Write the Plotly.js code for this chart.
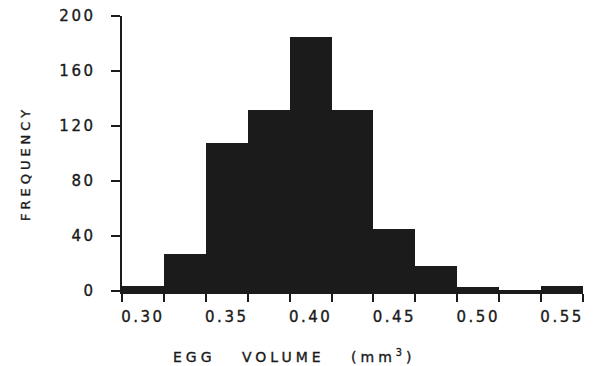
<!DOCTYPE html>
<html>
<head>
<meta charset="utf-8">
<script src="https://cdn.plot.ly/plotly-3.0.1.min.js"></script>
<style>
  html, body { margin: 0; padding: 0; background: #fff; }
  #chart { width: 595px; height: 366px; }
  .xtick text, .ytick text { letter-spacing: 2.5px; stroke: #1a1a1a; stroke-width: 0.35px; }
  .annotation-text { letter-spacing: 4px; word-spacing: 18px; stroke: #1a1a1a; stroke-width: 0.35px; }
  .annotation:nth-of-type(2) .annotation-text { letter-spacing: 6px; }
</style>
</head>
<body>
<div id="chart"></div>
<script>
// Bin centres (egg volume, mm^3) and frequencies
const binCenters = [0.300, 0.325, 0.350, 0.375, 0.400, 0.425, 0.450, 0.475, 0.500, 0.525, 0.550];
const frequency  = [4, 27, 108, 132, 185, 132, 45, 18, 3, 1, 4];
const binWidth = 0.025;
const xTickVals = [0.30, 0.35, 0.40, 0.45, 0.50, 0.55];
const xTickText = ['0.30', '0.35', '0.40', '0.45', '0.50', '0.55'];
const yTickVals = [0, 40, 80, 120, 160, 200];
const xTitle = 'EGG VOLUME (mm<sup>3</sup>)';
const yTitle = 'FREQUENCY';

const ink = '#1b1b1b';
const trace = {
  type: 'bar',
  x: binCenters,
  y: frequency,
  width: binCenters.map(() => binWidth),
  marker: { color: ink, line: { width: 0 } },
  hoverinfo: 'skip'
};

const firstEdge = binCenters[0] - binWidth / 2;
const lastEdge = binCenters[binCenters.length - 1] + binWidth / 2;

const layout = {
  width: 595, height: 366,
  margin: { l: 122, r: 12, t: 16, b: 75 },
  paper_bgcolor: '#fff', plot_bgcolor: '#fff',
  showlegend: false,
  bargap: 0,
  font: { family: 'DejaVu Sans, sans-serif', size: 15, color: '#1a1a1a' },
  xaxis: {
    range: [firstEdge, lastEdge],
    tickvals: xTickVals, ticktext: xTickText,
    ticks: '', showgrid: false, zeroline: false,
    showline: true, linecolor: ink, linewidth: 2.5,
    ticklabelstandoff: 10,
    minor: { ticks: 'outside', tick0: firstEdge, dtick: binWidth, ticklen: 8, tickwidth: 2, tickcolor: ink, showgrid: false },
    fixedrange: true
  },
  yaxis: {
    range: [0, 200],
    tickvals: yTickVals,
    ticks: 'outside', ticklen: 9, tickwidth: 2, tickcolor: ink,
    showgrid: false, zeroline: false,
    showline: true, linecolor: ink, linewidth: 2.5,
    ticklabelstandoff: 12,
    fixedrange: true
  },
  annotations: [
    { text: xTitle, xref: 'paper', yref: 'paper', x: 0.374, y: -0.236,
      xanchor: 'center', yanchor: 'middle', showarrow: false,
      font: { size: 14, color: '#1a1a1a' } },
    { text: yTitle, xref: 'paper', yref: 'paper', x: -0.208, y: 0.462,
      xanchor: 'center', yanchor: 'middle', showarrow: false, textangle: -90,
      font: { size: 13, color: '#1a1a1a' } }
  ]
};

Plotly.newPlot('chart', [trace], layout, { displayModeBar: false, staticPlot: true });
</script>
</body>
</html>
